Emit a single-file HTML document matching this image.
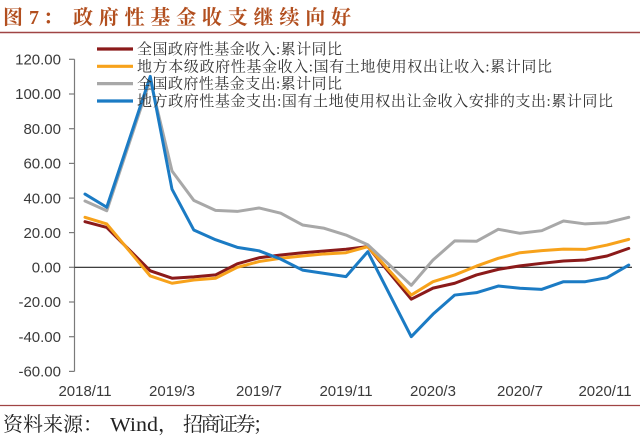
<!DOCTYPE html>
<html>
<head>
<meta charset="utf-8">
<style>
  html,body{margin:0;padding:0;background:#fff;}
  svg{display:block;}
  .tick{font-family:"Liberation Sans",Arial,sans-serif;font-size:15px;fill:#3a3a3a;}
  .leg{font-family:"Liberation Serif","Noto Serif CJK SC",serif;font-size:15px;fill:#333;}
  .title{font-family:"Liberation Serif","Noto Serif CJK SC",serif;font-size:20px;font-weight:bold;fill:#b24f1f;}
  .src{font-family:"Liberation Serif","Noto Serif CJK SC",serif;font-size:20px;fill:#222;}
</style>
</head>
<body>
<svg width="640" height="437" viewBox="0 0 640 437" xmlns="http://www.w3.org/2000/svg">
  <rect x="0" y="0" width="640" height="437" fill="#fff"/>

  <!-- Title -->
  <text class="title" x="3" y="24">图</text>
  <text class="title" x="29" y="24" style="font-family:'Liberation Serif',serif;">7</text>
  <text class="title" x="43" y="24">：</text>
  <text class="title" x="73" y="24" textLength="278" lengthAdjust="spacing">政府性基金收支继续向好</text>
  <line x1="0" y1="32.5" x2="640" y2="32.5" stroke="#a04444" stroke-width="1.5"/>

  <!-- Y axis -->
  <line x1="74.5" y1="59.3" x2="74.5" y2="371.4" stroke="#7a7a7a" stroke-width="1.2"/>
  <g stroke="#7a7a7a" stroke-width="1.2">
    <line x1="69" y1="59.3" x2="74.5" y2="59.3"/>
    <line x1="69" y1="94" x2="74.5" y2="94"/>
    <line x1="69" y1="128.7" x2="74.5" y2="128.7"/>
    <line x1="69" y1="163.4" x2="74.5" y2="163.4"/>
    <line x1="69" y1="198.1" x2="74.5" y2="198.1"/>
    <line x1="69" y1="232.6" x2="74.5" y2="232.6"/>
    <line x1="69" y1="267.3" x2="74.5" y2="267.3"/>
    <line x1="69" y1="302" x2="74.5" y2="302"/>
    <line x1="69" y1="336.7" x2="74.5" y2="336.7"/>
    <line x1="69" y1="371.4" x2="74.5" y2="371.4"/>
  </g>
  <g class="tick" text-anchor="end">
    <text x="61" y="64.5">120.00</text>
    <text x="61" y="99.2">100.00</text>
    <text x="61" y="133.9">80.00</text>
    <text x="61" y="168.6">60.00</text>
    <text x="61" y="203.3">40.00</text>
    <text x="61" y="237.8">20.00</text>
    <text x="61" y="272.5">0.00</text>
    <text x="61" y="307.2">-20.00</text>
    <text x="61" y="341.9">-40.00</text>
    <text x="61" y="376.6">-60.00</text>
  </g>

  <!-- Zero line -->
  <line x1="74.5" y1="267.3" x2="632" y2="267.3" stroke="#222" stroke-width="1.2"/>

  <!-- X labels -->
  <g class="tick" text-anchor="middle">
    <text x="85" y="396">2018/11</text>
    <text x="172" y="396">2019/3</text>
    <text x="259" y="396">2019/7</text>
    <text x="346" y="396">2019/11</text>
    <text x="433" y="396">2020/3</text>
    <text x="520" y="396">2020/7</text>
    <text x="605" y="396">2020/11</text>
  </g>

  <!-- Series -->
  <g fill="none" stroke-width="3" stroke-linejoin="round" stroke-linecap="round">
    <!-- dark red -->
    <polyline stroke="#8b1a1a" points="85,221.67 106.75,227.4 150.25,270.77 172,278.23 193.75,276.84 215.5,274.93 237.25,263.83 259,257.76 280.75,254.98 302.5,252.73 324.25,250.99 346,249.26 367.75,246.65 411.25,299.22 433,288.12 454.75,283.26 476.5,274.93 498.25,269.38 520,265.91 541.75,263.31 563.5,261.05 585.25,260.01 607,256.02 628.75,248.39"/>
    <!-- orange -->
    <polyline stroke="#f7a21b" points="85,217.33 106.75,223.93 150.25,275.98 172,283.26 193.75,279.97 215.5,278.23 237.25,267.3 259,261.57 280.75,258.28 302.5,256.02 324.25,253.94 346,252.73 367.75,246.65 411.25,295.06 433,281.7 454.75,274.93 476.5,266.09 498.25,258.28 520,252.73 541.75,250.64 563.5,249.08 585.25,249.43 607,245.09 628.75,239.37"/>
    <!-- gray -->
    <polyline stroke="#a8a8a8" points="85,201.02 106.75,210.74 150.25,79.92 172,171.01 193.75,200.33 215.5,210.39 237.25,211.43 259,207.96 280.75,213.17 302.5,224.97 324.25,228.26 346,235.03 367.75,244.74 411.25,285.34 433,260.01 454.75,240.93 476.5,241.28 498.25,229.3 520,233.29 541.75,230.69 563.5,220.98 585.25,223.93 607,222.71 628.75,217.33"/>
    <!-- blue -->
    <polyline stroke="#1b7bc4" points="85,194.08 106.75,207.27 150.25,76.45 172,189.23 193.75,229.98 215.5,239.71 237.25,247.35 259,250.82 280.75,259.15 302.5,270.08 324.25,273.37 346,276.67 367.75,251.69 411.25,336.7 433,314.15 454.75,295.06 476.5,292.63 498.25,286.04 520,288.29 541.75,289.33 563.5,281.7 585.25,281.7 607,277.71 628.75,265.04"/>
  </g>

  <!-- Legend -->
  <g stroke-width="3.2" stroke-linecap="butt">
    <line x1="97" y1="49" x2="133" y2="49" stroke="#8b1a1a"/>
    <line x1="97" y1="66.3" x2="133" y2="66.3" stroke="#f7a21b"/>
    <line x1="97" y1="83.6" x2="133" y2="83.6" stroke="#a8a8a8"/>
    <line x1="97" y1="101" x2="133" y2="101" stroke="#1b7bc4"/>
  </g>
  <text class="leg" x="137" y="54" textLength="205" lengthAdjust="spacing">全国政府性基金收入:累计同比</text>
  <text class="leg" x="137" y="71.3" textLength="415" lengthAdjust="spacing">地方本级政府性基金收入:国有土地使用权出让收入:累计同比</text>
  <text class="leg" x="137" y="88.6" textLength="205" lengthAdjust="spacing">全国政府性基金支出:累计同比</text>
  <text class="leg" x="137" y="106" textLength="476" lengthAdjust="spacing">地方政府性基金支出:国有土地使用权出让金收入安排的支出:累计同比</text>

  <!-- Bottom line and source -->
  <line x1="0" y1="405.5" x2="640" y2="405.5" stroke="#a04444" stroke-width="1.3"/>
  <text class="src" x="3" y="431" textLength="100" lengthAdjust="spacing">资料来源：</text>
  <text class="src" x="110" y="431" textLength="48" lengthAdjust="spacingAndGlyphs" style="font-family:'Liberation Serif',serif;">Wind</text>
  <text class="src" x="158" y="431">，</text>
  <text class="src" x="183" y="431" textLength="90" lengthAdjust="spacing">招商证券；</text>
</svg>
</body>
</html>
